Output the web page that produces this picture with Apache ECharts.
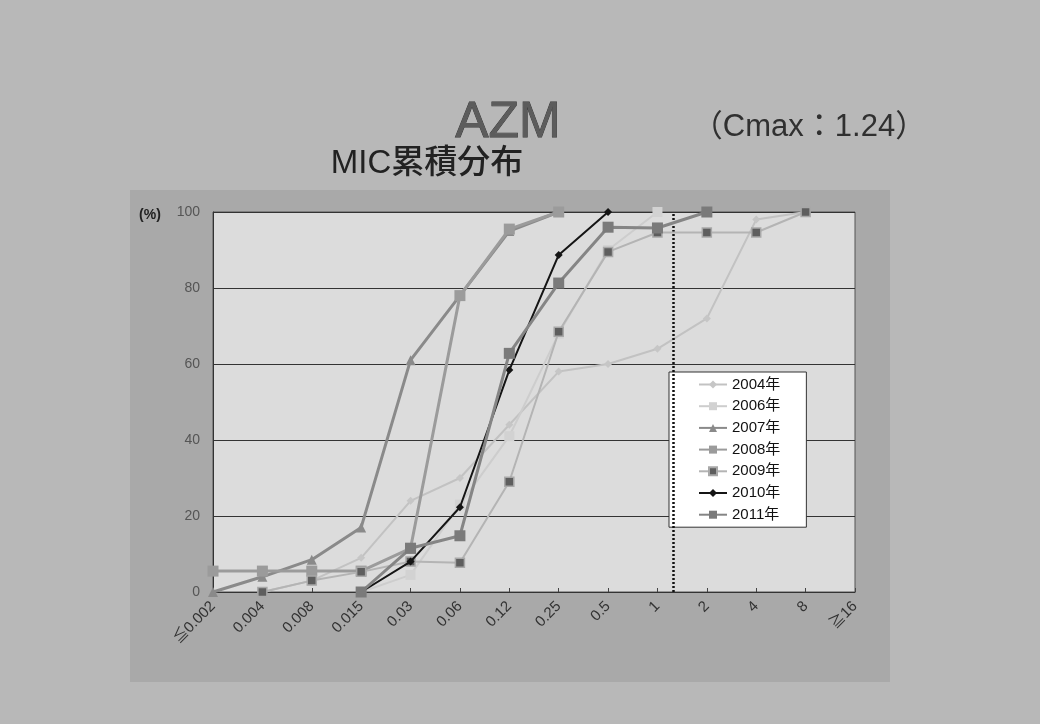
<!DOCTYPE html>
<html>
<head>
<meta charset="utf-8">
<script src="https://cdn.jsdelivr.net/npm/echarts@6/dist/echarts.min.js"></script>
<style>
  html, body { margin: 0; padding: 0; background: #b8b8b8; }
  #chart { width: 1040px; height: 724px; }
</style>
</head>
<body>
<div id="chart"></div>
<script>
// MIC categories (mg/L), left to right
const categories = ['≦0.002', '0.004', '0.008', '0.015', '0.03', '0.06', '0.12', '0.25', '0.5', '1', '2', '4', '8', '≧16'];

// cumulative % per year (null = no point)
const y2004 = [null, 0, 3, 9, 24, 30, 44, 58, 60, 64, 72, 98, 100, null];
const y2006 = [null, null, null, 0, 4.5, 23, 41, 68, 90, 100, null, null, null, null];
const y2007 = [0, 4, 8.5, 17, 61, 78, 95, 100, null, null, null, null, null, null];
const y2008 = [5.5, 5.5, 5.5, 5.5, 11.5, 78, 95.5, 100, null, null, null, null, null, null];
const y2009 = [null, 0, 3, 5.3, 8, 7.7, 29, 68.5, 89.5, 94.6, 94.6, 94.6, 100, null];
const y2010 = [null, null, null, 0, 8, 22.3, 58.4, 88.7, 100, null, null, null, null, null];
const y2011 = [null, null, null, 0, 11.5, 14.8, 62.8, 81.3, 96, 95.8, 100, null, null, null];

const yearNames = ['2004年', '2006年', '2007年', '2008年', '2009年', '2010年', '2011年'];

// Cmax of azithromycin, mg/L
const cmax = 1.24;

// position of Cmax on the doubling-dilution scale, relative to the "1" column
const cmaxPos = categories.indexOf('1') + Math.log2(cmax);

function toPoints(arr) {
  const pts = [];
  arr.forEach((v, i) => { if (v !== null) pts.push([i, v]); });
  return pts;
}

const looks = [
  { symbol: 'diamond',  size: 8,  color: '#c6c6c6', line: '#c2c2c2', width: 2 },
  { symbol: 'rect',     size: 10, color: '#d2d2d2', line: '#cdcdcd', width: 2 },
  { symbol: 'triangle', size: 10, color: '#8a8a8a', line: '#8a8a8a', width: 3 },
  { symbol: 'rect',     size: 11, color: '#9b9b9b', line: '#9b9b9b', width: 3 },
  { symbol: 'rect',     size: 9,  color: '#5e5e5e', line: '#b4b4b4', width: 2, border: '#a8a8a8' },
  { symbol: 'diamond',  size: 8,  color: '#151515', line: '#151515', width: 2 },
  { symbol: 'rect',     size: 11, color: '#7a7a7a', line: '#858585', width: 3 }
];

const yearData = [y2004, y2006, y2007, y2008, y2009, y2010, y2011];

const series = yearData.map((arr, k) => ({
  name: yearNames[k],
  type: 'line',
  data: toPoints(arr),
  symbol: looks[k].symbol,
  symbolSize: looks[k].size,
  showAllSymbol: true,
  z: 3 + k,
  lineStyle: { color: looks[k].line, width: looks[k].width },
  itemStyle: {
    color: looks[k].color,
    borderColor: looks[k].border || looks[k].color,
    borderWidth: looks[k].border ? 1.5 : 0
  },
  emphasis: { disabled: true },
  animation: false
}));

// dotted Cmax marker
series.push({
  name: 'Cmax',
  type: 'line',
  data: [],
  z: 20,
  markLine: {
    silent: true,
    symbol: ['none', 'none'],
    label: { show: false },
    lineStyle: { color: '#111', type: [2, 2], width: 2.5 },
    data: [{ xAxis: cmaxPos }]
  },
  animation: false
});

const chart = echarts.init(document.getElementById('chart'), null, { renderer: 'canvas' });

chart.setOption({
  backgroundColor: '#b8b8b8',
  animation: false,
  textStyle: { fontFamily: '"Liberation Sans", "Noto Sans CJK JP", sans-serif' },
  graphic: {
    elements: [
      {
        type: 'rect', z: -100, silent: true,
        shape: { x: 130, y: 190, width: 760, height: 492 },
        style: { fill: '#a9a9a9' }
      },
      {
        type: 'text', silent: true,
        style: {
          text: 'AZM', x: 508, y: 123, textAlign: 'center', textVerticalAlign: 'middle',
          font: '50px "Liberation Sans", sans-serif', fill: '#5c5c5c',
          stroke: '#333', lineWidth: 0.8
        }
      },
      {
        type: 'text', silent: true,
        style: {
          text: '（Cmax：1.24）', x: 809, y: 127, textAlign: 'center', textVerticalAlign: 'middle',
          font: '31px "Liberation Sans", "Noto Sans CJK JP", sans-serif', fill: '#303030'
        }
      },
      {
        type: 'text', silent: true,
        style: {
          text: 'MIC累積分布', x: 427, y: 164, textAlign: 'center', textVerticalAlign: 'middle',
          font: '500 33px "Liberation Sans", "Noto Sans CJK JP", sans-serif', fill: '#222'
        }
      },
      {
        type: 'text', silent: true,
        style: {
          text: '(%)', x: 150, y: 215, textAlign: 'center', textVerticalAlign: 'middle',
          font: 'bold 14px "Liberation Sans", sans-serif', fill: '#222'
        }
      }
    ]
  },
  grid: {
    left: 213, top: 212, width: 642, height: 380,
    show: true, backgroundColor: '#dcdcdc', borderColor: '#555', borderWidth: 1
  },
  legend: {
    data: yearNames,
    orient: 'vertical',
    left: 669, top: 372,
    padding: [5, 26, 5, 29],
    itemWidth: 28, itemHeight: 10, itemGap: 6.7,
    backgroundColor: '#ffffff',
    borderColor: '#333', borderWidth: 1,
    selectedMode: false,
    textStyle: { fontSize: 15, lineHeight: 15, color: '#111', padding: [0, 0, 0, 0] }
  },
  xAxis: {
    type: 'value',
    min: 0, max: categories.length - 1, interval: 1,
    axisLine: { show: true, lineStyle: { color: '#333', width: 1 } },
    axisTick: { show: true, inside: true, length: 4, lineStyle: { color: '#444' } },
    splitLine: { show: false },
    axisLabel: {
      rotate: 45, margin: 12, fontSize: 15, color: '#333',
      formatter: v => categories[v] !== undefined ? categories[v] : ''
    }
  },
  yAxis: {
    type: 'value',
    min: 0, max: 100, interval: 20,
    axisLine: { show: true, lineStyle: { color: '#333', width: 1 } },
    axisTick: { show: false },
    splitLine: { show: true, lineStyle: { color: '#333', width: 1 } },
    axisLabel: { fontSize: 14, color: '#555', margin: 13 }
  },
  series: series
});
</script>
</body>
</html>
